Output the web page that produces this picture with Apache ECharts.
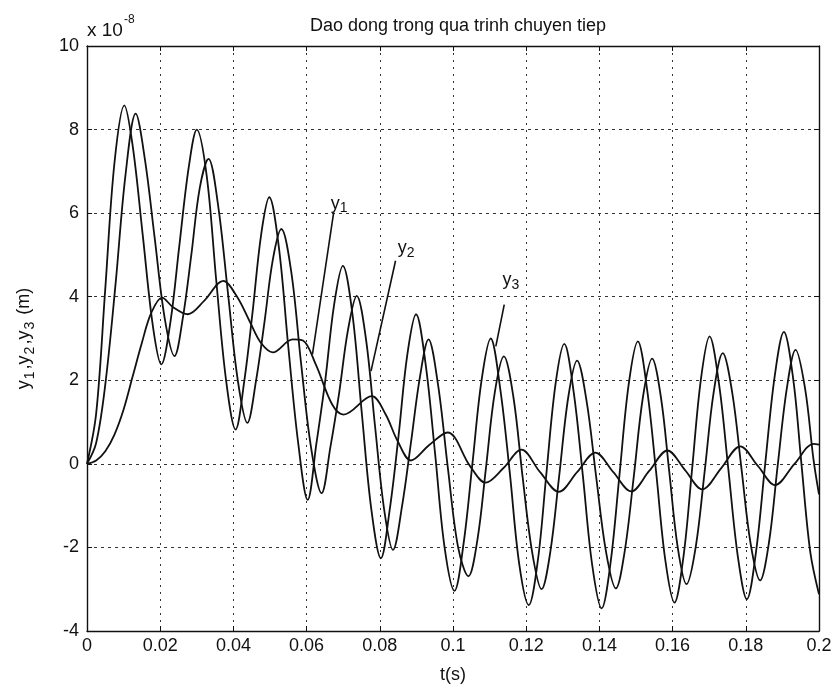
<!DOCTYPE html>
<html>
<head>
<meta charset="utf-8">
<script src="https://cdn.jsdelivr.net/npm/echarts@6/dist/echarts.min.js"></script>
<style>
  html, body { margin: 0; padding: 0; background: #ffffff; }
  #chart { width: 840px; height: 697px; }
</style>
</head>
<body>
<div id="chart"></div>
<script>
// Transient oscillation of three coordinates (values in units of 1e-8 m)
const y1Time = [0, 0.0025, 0.005, 0.0075, 0.0102, 0.0125, 0.0152, 0.018, 0.0203, 0.0228, 0.0252, 0.0278, 0.030,
  0.0327, 0.0353, 0.038, 0.0406, 0.043, 0.0452, 0.0476, 0.0498, 0.0524, 0.055, 0.0577, 0.0603, 0.0627, 0.0651,
  0.0675, 0.0699, 0.0725, 0.0751, 0.0777, 0.0803, 0.0827, 0.0851, 0.0875, 0.0899, 0.0925, 0.0951, 0.0977, 0.1004,
  0.1029, 0.1053, 0.1078, 0.1103, 0.1129, 0.1155, 0.1181, 0.1207, 0.1232, 0.1255, 0.128, 0.1304, 0.133, 0.1355,
  0.138, 0.1406, 0.143, 0.1455, 0.148, 0.1505, 0.153, 0.1555, 0.158, 0.1605, 0.163, 0.1653, 0.1677, 0.1701,
  0.1727, 0.1752, 0.1778, 0.1803, 0.1828, 0.1853, 0.1879, 0.1904, 0.193, 0.1952, 0.1976, 0.2];
const y1Value = [0, 1.2, 4.2, 7.2, 8.58, 7.6, 5.5, 3.3, 2.38, 3.4, 5.2, 7.1, 8.0,
  6.9, 4.4, 2.0, 0.82, 2.0, 3.6, 5.5, 6.38, 5.2, 2.8, 0.5, -0.86, 0.5, 2.0,
  3.8, 4.74, 3.6, 1.2, -1.1, -2.26, -1.1, 0.65, 2.6, 3.58, 2.4, 0.25, -2.0, -3.04,
  -1.9, 0.0, 2.0, 3.0, 1.8, -0.2, -2.4, -3.38, -2.3, -0.25, 1.9, 2.87, 1.7, -0.3,
  -2.4, -3.46, -2.4, -0.25, 1.9, 2.93, 1.8, -0.2, -2.3, -3.32, -2.2, -0.15, 2.0, 3.05,
  1.9, -0.1, -2.2, -3.24, -2.1, 0.0, 2.1, 3.16, 2.0, 0.0, -2.1, -3.12];

const y2Time = [0, 0.0025, 0.005, 0.0078, 0.0105, 0.0133, 0.0158, 0.0185, 0.0212, 0.0239, 0.0262, 0.0285, 0.0308,
  0.0332, 0.0358, 0.0385, 0.0412, 0.0438, 0.0462, 0.0485, 0.0508, 0.0531, 0.0558, 0.0585, 0.0612, 0.0641, 0.0665,
  0.0689, 0.0713, 0.0737, 0.0762, 0.0787, 0.0812, 0.0836, 0.0861, 0.0885, 0.091, 0.0933, 0.0959, 0.0986, 0.1014,
  0.1042, 0.1067, 0.109, 0.1114, 0.1139, 0.1165, 0.119, 0.1216, 0.1242, 0.1266, 0.129, 0.1315, 0.1339, 0.1365,
  0.1391, 0.1418, 0.1445, 0.1469, 0.1494, 0.1519, 0.1544, 0.1568, 0.1591, 0.1614, 0.1638, 0.1663, 0.1688, 0.1712,
  0.1737, 0.1763, 0.1788, 0.1813, 0.1839, 0.1863, 0.1887, 0.1912, 0.1936, 0.1962, 0.1985, 0.2];
const y2Value = [0, 0.5, 1.9, 4.3, 6.9, 8.38, 7.3, 5.4, 3.5, 2.58, 3.5, 5.0, 6.6,
  7.3, 6.2, 4.1, 2.0, 0.98, 2.0, 3.4, 4.9, 5.62, 4.6, 2.4, 0.4, -0.7, 0.4,
  1.7, 3.2, 4.02, 3.0, 0.9, -1.1, -2.06, -1.0, 0.5, 2.1, 2.98, 1.9, -0.1, -2.0,
  -2.69, -1.8, -0.1, 1.7, 2.57, 1.6, -0.3, -2.1, -3.0, -2.1, -0.3, 1.6, 2.47, 1.5,
  -0.3, -2.1, -2.98, -2.1, -0.3, 1.6, 2.52, 1.6, -0.2, -2.0, -2.88, -2.0, -0.15, 1.7,
  2.65, 1.7, -0.1, -1.9, -2.79, -1.9, -0.05, 1.8, 2.73, 1.8, 0.1, -0.73];

const y3Time = [0, 0.0025, 0.005, 0.0075, 0.01, 0.0125, 0.015, 0.0175, 0.0205, 0.0235, 0.0275, 0.032, 0.0372,
  0.041, 0.0445, 0.0475, 0.0508, 0.0562, 0.059, 0.0625, 0.067, 0.0701, 0.0778, 0.0815, 0.0849, 0.0885, 0.0935,
  0.0985, 0.1047, 0.1089, 0.1138, 0.1187, 0.1238, 0.1289, 0.1339, 0.1389, 0.1438, 0.1487, 0.1536, 0.1586, 0.1634,
  0.1681, 0.1733, 0.1785, 0.1833, 0.188, 0.1933, 0.1986, 0.2];
const y3Value = [0, 0.08, 0.3, 0.7, 1.3, 2.1, 2.9, 3.6, 3.98, 3.75, 3.58, 3.9, 4.38,
  4.0, 3.4, 2.9, 2.67, 2.98, 2.95, 2.38, 1.42, 1.18, 1.62, 1.2, 0.54, 0.08, 0.45,
  0.75, -0.06, -0.45, -0.1, 0.34, -0.2, -0.67, -0.2, 0.27, -0.2, -0.66, -0.17, 0.32, -0.15,
  -0.61, -0.1, 0.42, -0.05, -0.51, 0.0, 0.48, 0.46];

// Axis ticks
const xTicks = [0, 0.02, 0.04, 0.06, 0.08, 0.1, 0.12, 0.14, 0.16, 0.18, 0.2];
const yTicks = [-4, -2, 0, 2, 4, 6, 8, 10];

// Curve annotations: subscript, label anchor (bottom centre), leader line (from, to)
const noteIndex = ['1', '2', '3'];
const noteLabelAt = [[0.0689, 5.93], [0.0872, 4.86], [0.1158, 4.09]];
const noteLeaderFrom = [[0.0674, 6.02], [0.0843, 4.86], [0.1140, 3.81]];
const noteLeaderTo = [[0.0616, 2.62], [0.0776, 2.22], [0.1117, 2.81]];

const FONT = 'Liberation Sans, Arial, Helvetica, sans-serif';
const INK = '#111111';

const zip = (ts, vs) => ts.map((t, i) => [t, vs[i]]);

const curve = (name, ts, vs) => ({
  name, type: 'line', data: zip(ts, vs), smooth: 0.35, showSymbol: false, symbol: 'none',
  lineStyle: { color: INK, width: 1.8 }, z: 3, animation: false
});

const series = [
  curve('y1', y1Time, y1Value),
  curve('y2', y2Time, y2Value),
  curve('y3', y3Time, y3Value)
];

const noteText = {
  fontFamily: FONT, color: INK, textBorderWidth: 0, textBorderColor: 'transparent',
  textShadowBlur: 0, opacity: 1
};

noteIndex.forEach((k, i) => {
  series.push({
    type: 'line', data: [noteLeaderFrom[i], noteLeaderTo[i]], symbol: 'none',
    lineStyle: { color: INK, width: 1.6 }, z: 4, animation: false
  });
  series.push({
    type: 'scatter', data: [noteLabelAt[i]], symbol: 'circle', symbolSize: 1,
    itemStyle: { color: '#ffffff', opacity: 1 }, z: 2, zlevel: 0, animation: false, silent: true,
    label: Object.assign({
      show: true, position: 'top', distance: 0,
      formatter: '{b|y}{s|' + k + '}',
      rich: {
        b: Object.assign({ fontSize: 18, verticalAlign: 'middle', lineHeight: 24 }, noteText),
        s: Object.assign({ fontSize: 14, verticalAlign: 'bottom', lineHeight: 24 }, noteText)
      }
    }, noteText)
  });
});

const xLabel = v => String(+v.toFixed(2));

const option = {
  animation: false,
  backgroundColor: '#ffffff',
  textStyle: { fontFamily: FONT, color: INK },
  title: [
    {
      text: 'Dao dong trong qua trinh chuyen tiep', left: 453, top: 12, textAlign: 'center',
      textStyle: { fontFamily: FONT, fontSize: 18, fontWeight: 'normal', color: INK }
    },
    {
      text: 'x 10', left: 82, top: 16,
      textStyle: { fontFamily: FONT, fontSize: 19, fontWeight: 'normal', color: INK }
    },
    {
      text: '-8', left: 119, top: 9,
      textStyle: { fontFamily: FONT, fontSize: 12, fontWeight: 'normal', color: INK }
    }
  ],
  grid: { left: 87, right: 21, top: 46, bottom: 66, containLabel: false, outerBoundsMode: 'none' },
  xAxis: [
    {
      type: 'value', min: 0, max: 0.2, interval: 0.02, position: 'bottom',
      name: 't(s)', nameLocation: 'middle', nameGap: 35,
      nameTextStyle: { fontFamily: FONT, fontSize: 18, color: INK },
      axisLine: { show: true, onZero: false, lineStyle: { color: INK, width: 1.4 } },
      axisTick: { show: true, inside: true, length: 5, lineStyle: { color: INK } },
      axisLabel: { fontFamily: FONT, fontSize: 18, color: INK, margin: 6, formatter: xLabel, showMinLabel: true, showMaxLabel: true },
      splitLine: { show: true, lineStyle: { color: '#333333', width: 1, type: [2, 5] } }
    },
    {
      type: 'value', min: 0, max: 0.2, interval: 0.02, position: 'top',
      axisLine: { show: true, onZero: false, lineStyle: { color: INK, width: 1.4 } },
      axisTick: { show: true, inside: true, length: 5, lineStyle: { color: INK } },
      axisLabel: { show: false }, splitLine: { show: false }
    }
  ],
  yAxis: [
    {
      type: 'value', min: -4, max: 10, interval: 2, position: 'left',
      name: '{b|y}{s|1}{b|,y}{s|2}{b|,y}{s|3}{b| (m)}', nameLocation: 'middle', nameGap: 50, nameRotate: 90,
      nameTextStyle: {
        fontFamily: FONT, color: INK,
        rich: {
          b: { fontFamily: FONT, fontSize: 18, color: INK, verticalAlign: 'middle', lineHeight: 26 },
          s: { fontFamily: FONT, fontSize: 14, color: INK, verticalAlign: 'bottom', lineHeight: 26, padding: [0, 2, 0, 1] }
        }
      },
      axisLine: { show: true, onZero: false, lineStyle: { color: INK, width: 1.4 } },
      axisTick: { show: true, inside: true, length: 5, lineStyle: { color: INK } },
      axisLabel: { fontFamily: FONT, fontSize: 18, color: INK, margin: 8 },
      splitLine: { show: true, lineStyle: { color: '#333333', width: 1, type: [3, 4] } }
    },
    {
      type: 'value', min: -4, max: 10, interval: 2, position: 'right',
      axisLine: { show: true, onZero: false, lineStyle: { color: INK, width: 1.4 } },
      axisTick: { show: true, inside: true, length: 5, lineStyle: { color: INK } },
      axisLabel: { show: false }, splitLine: { show: false }
    }
  ],
  series
};

const chart = echarts.init(document.getElementById('chart'), null, { renderer: 'canvas' });
chart.setOption(option);
</script>
</body>
</html>
